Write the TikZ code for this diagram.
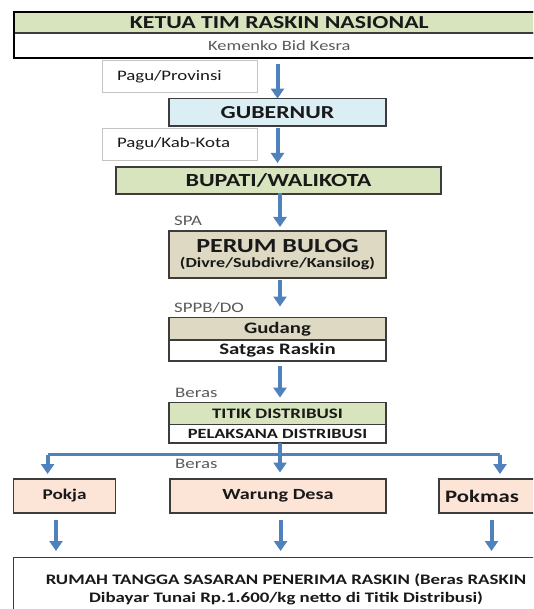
\documentclass[tikz,border=0pt]{standalone}
\usepackage{fontspec}
\setmainfont{Carlito}[FakeStretch=1.3]
\usetikzlibrary{arrows.meta,calc}
\definecolor{fgreen}{RGB}{215,228,189}
\definecolor{fblue}{RGB}{218,238,243}
\definecolor{ftan}{RGB}{221,217,195}
\definecolor{fpeach}{RGB}{252,228,214}
\definecolor{ablue}{RGB}{79,129,189}
\definecolor{txt}{RGB}{25,25,25}
\definecolor{lbltxt}{RGB}{90,90,90}
\definecolor{bord}{RGB}{60,60,60}
\newcommand{\fsz}[1]{\fontsize{#1}{#1}\selectfont}
\tikzset{
  box/.style={draw=bord, line width=1.4pt, inner sep=0pt, outer sep=0pt, text=txt, font=\bfseries},
  pagubox/.style={draw={rgb,255:red,195;green,195;blue,195}, line width=0.8pt, fill=white, text width=125pt, inner xsep=15pt, inner ysep=0pt, minimum height=32pt, align=left, text=txt, font=\fsz{14.5}},
  lbl/.style={anchor=west, inner sep=0pt, text=lbltxt, font=\fsz{14.5}},
  arr/.style={draw=ablue, line width=4pt, -{Triangle[width=13pt,length=10pt]}},
}
\begin{document}
\begin{tikzpicture}[x=1pt,y=-1pt]
\useasboundingbox (0,0) rectangle (533,609);
\clip (0,0) rectangle (533,609);
% top box
\node[box, fill=fgreen, minimum width=531.4pt, minimum height=21pt, font=\bfseries\fsz{18.3}] (ketua) at (279.3,22.5) {KETUA TIM RASKIN NASIONAL};
\node[box, fill=white, minimum width=531.4pt, minimum height=25.5pt, font=\fsz{14.2}, text=lbltxt] (kemenko) at (279.3,45.75) {Kemenko Bid Kesra};
\draw[black, line width=2pt] (ketua.north west) rectangle (kemenko.south east);
% pagu boxes
\node[pagubox] (pagu1) at (179.5,76.5) {Pagu/Provinsi};
\node[pagubox] (pagu2) at (179.5,144) {Pagu/Kab-Kota};
% main chain
\node[box, fill=fblue, minimum width=217pt, minimum height=27.4pt, font=\bfseries\fsz{18.3}] (gub) at (277.5,112.3) {GUBERNUR};
\node[box, fill=fgreen, minimum width=325pt, minimum height=27pt, font=\bfseries\fsz{18.5}] (bup) at (278.5,180.5) {BUPATI/WALIKOTA};
\node[box, fill=ftan, minimum width=217pt, minimum height=47pt, align=center] (bulog) at (277.5,254.5) {\fsz{20}PERUM BULOG\\[3pt]\fsz{13.9}(Divre/Subdivre/Kansilog)};
\node[box, fill=ftan, minimum width=217pt, minimum height=22.5pt, font=\bfseries\fsz{16}] (gudang) at (277.5,328.75) {Gudang};
\node[box, fill=white, minimum width=217pt, minimum height=21pt, font=\bfseries\fsz{16}] (satgas) at (277.5,350.5) {Satgas Raskin};
\node[box, fill=fgreen, minimum width=217pt, minimum height=22.1pt, font=\bfseries\fsz{14.5}] (titik) at (277.5,413.65) {TITIK DISTRIBUSI};
\node[box, fill=white, minimum width=217pt, minimum height=18.3pt, font=\bfseries\fsz{14.1}] (pel) at (277.5,433.85) {PELAKSANA DISTRIBUSI};
% labels
\node[lbl] (spa) at (174,221) {SPA};
\node[lbl] (sppb) at (174,308) {SPPB/DO};
\node[lbl] (beras1) at (175,393) {Beras};
\node[lbl] (beras2) at (175,464) {Beras};
% third row
\node[box, fill=fpeach, minimum width=102pt, minimum height=34pt, font=\bfseries\fsz{14.8}] (pokja) at (64.6,496) {Pokja};
\node[box, fill=fpeach, minimum width=216pt, minimum height=34pt, font=\bfseries\fsz{15.5}] (warung) at (278,496) {Warung Desa};
\node[box, fill=fpeach, minimum width=101pt, minimum height=34pt] (pokmas) at (489.5,496) {};
\node[inner sep=0pt, text=txt, font=\bfseries\fsz{17.5}] (pokmast) at (482,496) {Pokmas};
% bottom
\node[box, fill=white, minimum width=541.4pt, minimum height=65pt] (rumah) at (284.3,590) {};
\node[inner sep=0pt, text=txt, align=center, font=\bfseries\fsz{14.5}] (rumaht) at (286,589.5) {RUMAH TANGGA SASARAN PENERIMA RASKIN (Beras RASKIN\\[4pt]Dibayar Tunai Rp.1.600/kg netto di Titik Distribusi)};
% arrows
\draw[arr, shorten <=5.5pt] (kemenko.south -| gub.north) -- (gub.north);
\draw[arr, shorten <=2pt, shorten >=4pt] (gub.south) -- (bup.north -| gub.south);
\draw[arr, shorten <=-1pt, shorten >=4pt] ([xshift=2.5pt]gub.south |- bup.south) -- ([xshift=2.5pt]bulog.north);
\coordinate (b4) at ([xshift=2.5pt]bulog.south);
\draw[arr, shorten <=2pt, shorten >=11pt] (b4) -- (b4 |- gudang.north);
\coordinate (b5) at ([xshift=2.5pt]satgas.south);
\draw[arr, shorten <=5pt, shorten >=5pt] (b5) -- (b5 |- titik.north);
\coordinate (b6) at ([xshift=2.5pt]pel.south);
\draw[arr, shorten >=6.5pt] (b6) -- (b6 |- warung.north);
% branch
\coordinate (hl) at (47.6,454.5);
\coordinate (hr) at (500,454.5);
\draw[draw=ablue, line width=3.2pt] (hl) -- (hr);
\draw[arr, shorten >=5pt] (hl) -- (hl |- pokja.north);
\draw[arr, shorten >=5pt] (hr) -- (hr |- pokmas.north);
% bottom arrows
\coordinate (pa) at ([xshift=-8.6pt]pokja.south);
\coordinate (wa) at ([xshift=2.6pt]warung.south);
\coordinate (ma) at ([xshift=2pt]pokmas.south);
\draw[arr, shorten <=7pt, shorten >=6.5pt] (pa) -- (pa |- rumah.north);
\draw[arr, shorten <=7pt, shorten >=6.5pt] (wa) -- (wa |- rumah.north);
\draw[arr, shorten <=7pt, shorten >=6.5pt] (ma) -- (ma |- rumah.north);
\end{tikzpicture}
\end{document}
